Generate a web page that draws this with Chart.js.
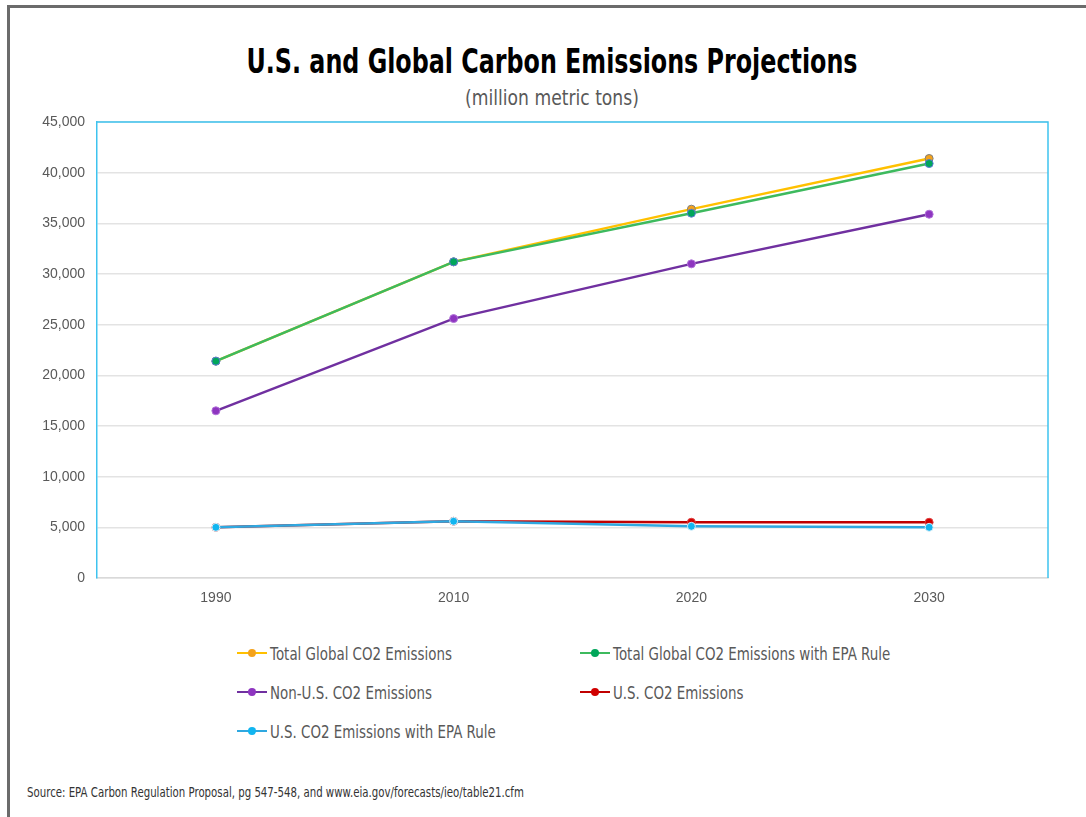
<!DOCTYPE html>
<html lang="en">
<head>
<meta charset="utf-8" />
<title>U.S. and Global Carbon Emissions Projections</title>
<script src="https://cdn.jsdelivr.net/npm/chart.js"></script>
<style>
    body { margin: 0; background: #fff; font-family: "DejaVu Sans", sans-serif; }
    #frame { position: absolute; left: 7px; top: 5px; width: 1100px; height: 830px; border-left: 3px solid #6b6b6b; border-top: 3px solid #6b6b6b; }
    /* no condensed font installed, so squeeze the text a bit */
    #title { position: absolute; left: 0; width: 1104px; top: 41px; text-align: center; font-size: 34px; font-weight: bold; color: #000; transform: scaleX(0.70); }
    #subtitle { position: absolute; left: 0; width: 1104px; top: 85px; text-align: center; font-size: 22px; color: #595959; transform: scaleX(0.78); }
    #wrap { position: absolute; left: 0; top: 100px; width: 1086px; height: 520px; }
    #legend { position: absolute; left: 237px; top: 640px; display: grid; grid-template-columns: 343px 343px; row-gap: 13px; }
    .item { display: flex; align-items: center; height: 26px; font-size: 18px; color: #595959; white-space: nowrap; }
    .item b { font-weight: normal; display: inline-block; transform: scaleX(0.745); transform-origin: left center; }
    .sample { position: relative; flex-shrink: 0; width: 30px; height: 2px; margin-right: 3px; }
    .sample span { position: absolute; left: 11px; top: -3px; width: 8px; height: 8px; border-radius: 50%; }
    #source { position: absolute; left: 27px; top: 784px; font-size: 13.5px; color: #333; white-space: nowrap; transform: scaleX(0.755); transform-origin: left center; }
</style>
</head>
<body>
<div id="frame"></div>
<div id="title">U.S. and Global Carbon Emissions Projections</div>
<div id="subtitle">(million metric tons)</div>
<div id="wrap"><canvas id="emChart"></canvas></div>
<div id="legend"></div>
<div id="source">Source: EPA Carbon Regulation Proposal, pg 547-548, and www.eia.gov/forecasts/ieo/table21.cfm</div>

<script>
    // years on the x axis
    var years = ['1990', '2010', '2020', '2030'];

    // million metric tons
    var totalGlobal = [21400, 31200, 36400, 41400];
    var totalGlobalEPA = [21400, 31200, 36000, 40900];
    var nonUS = [16500, 25600, 31000, 35900];
    var usCO2 = [5000, 5600, 5500, 5500];
    var usCO2EPA = [5000, 5600, 5100, 5000];

    var seriesNames = ['Total Global CO2 Emissions', 'Total Global CO2 Emissions with EPA Rule',
        'Non-U.S. CO2 Emissions', 'U.S. CO2 Emissions', 'U.S. CO2 Emissions with EPA Rule'];

    function mkSet(i, data, line, fill, edge) {
        return {
            label: seriesNames[i],
            data: data,
            borderColor: line,
            backgroundColor: fill,
            pointBackgroundColor: fill,
            pointBorderColor: edge,
            pointBorderWidth: 1,
            pointRadius: 4,
            borderWidth: 2.5,
            tension: 0,
            order: -i // later series drawn on top, like the original
        };
    }

    var datasets = [
        mkSet(0, totalGlobal, '#FFC000', '#F4A21B', '#7f7f7f'),
        mkSet(1, totalGlobalEPA, '#3DBA5E', '#00A65A', '#5B7BD5'),
        mkSet(2, nonUS, '#7030A0', '#8E35C0', '#B070D8'),
        mkSet(3, usCO2, '#C00000', '#D00000', '#E04040'),
        mkSet(4, usCO2EPA, '#2FA8E0', '#11B5F0', '#D8EEF8')
    ];

    // blue frame on top and right of plot area
    var boxPlugin = {
        id: 'boxPlugin',
        afterDraw: function (chart) {
            var a = chart.chartArea, c = chart.ctx;
            c.save();
            c.strokeStyle = '#3EC3EF';
            c.lineWidth = 1.5;
            c.beginPath();
            c.moveTo(a.left, a.top);
            c.lineTo(a.right, a.top);
            c.lineTo(a.right, a.bottom);
            c.stroke();
            c.restore();
        }
    };

    var tickFont = { family: '"Liberation Sans", Arial, sans-serif', size: 14 };

    var emChart = new Chart(document.getElementById('emChart').getContext('2d'), {
        type: 'line',
        data: { labels: years, datasets: datasets },
        plugins: [boxPlugin],
        options: {
            responsive: true,
            maintainAspectRatio: false,
            animation: false,
            layout: { padding: { left: 20, right: 38, top: 22, bottom: 12 } },
            plugins: {
                legend: { display: false },
                tooltip: { enabled: false }
            },
            scales: {
                x: {
                    offset: true,
                    grid: { display: false, drawTicks: false },
                    border: { color: '#d9d9d9', width: 1.5 },
                    ticks: { color: '#595959', font: tickFont, padding: 12 },
                    afterFit: function (s) { s.height = 30; }
                },
                y: {
                    min: 0,
                    max: 45000,
                    grid: { color: '#e3e3e3', lineWidth: 1.5, drawTicks: false },
                    border: { color: '#3EC3EF', width: 1.5 },
                    ticks: {
                        stepSize: 5000,
                        color: '#595959',
                        font: tickFont,
                        padding: 12,
                        callback: function (v) { return v.toLocaleString('en-US'); }
                    },
                    afterFit: function (s) { s.width = 77; }
                }
            }
        }
    });

    // legend in two columns, colours taken from the datasets
    var legend = document.getElementById('legend');
    emChart.data.datasets.forEach(function (ds) {
        var item = document.createElement('div');
        item.className = 'item';
        item.innerHTML = '<div class="sample" style="background:' + ds.borderColor + '">' +
            '<span style="background:' + ds.pointBackgroundColor + '"></span></div><b>' + ds.label + '</b>';
        legend.appendChild(item);
    });
</script>
</body>
</html>
